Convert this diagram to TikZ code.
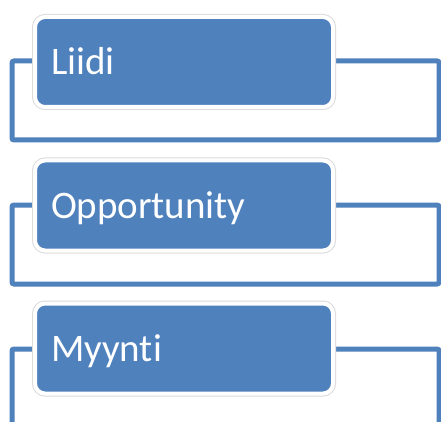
\documentclass[tikz,border=0pt]{standalone}
\usepackage{fontspec}
\setmainfont{Carlito}[Ligatures=NoCommon]
\usepackage{tikz}
\usetikzlibrary{positioning}
\definecolor{stageblue}{HTML}{4F81BD}

\begin{document}
\begin{tikzpicture}[
x=1pt, y=-1pt,
frame/.style={draw=stageblue, line width=5pt, rounded corners=2pt, minimum width=427pt, minimum height=79pt, inner sep=0pt},
stagebox/.style={fill=stageblue, draw=white, line width=4pt, rounded corners=10pt,
  preaction={draw=black!14, line width=6pt},
  minimum width=298pt, minimum height=90pt, text width=266pt, inner xsep=16pt,
  align=left, text height=31pt, text depth=6pt, text=white, font=\fontsize{39}{43}\selectfont}
]
\clip (0,0) rectangle (441,422);
\fill[white] (0,0) rectangle (441,422);
% frames behind the boxes
\node[frame] (liidiframe) at (225.5,100.5) {};
\node[frame] (oppframe) at (225.5,244.5) {};
\node[frame, minimum height=150pt] (myyntiframe) at (225.5,424) {};
% stage boxes
\node[stagebox] (liidi) at (184,62) {Liidi};
\node[stagebox] (opp) at (184,205.5) {Opportunity};
\node[stagebox] (myynti) at (184,348.5) {Myynti};
\end{tikzpicture}
\end{document}
